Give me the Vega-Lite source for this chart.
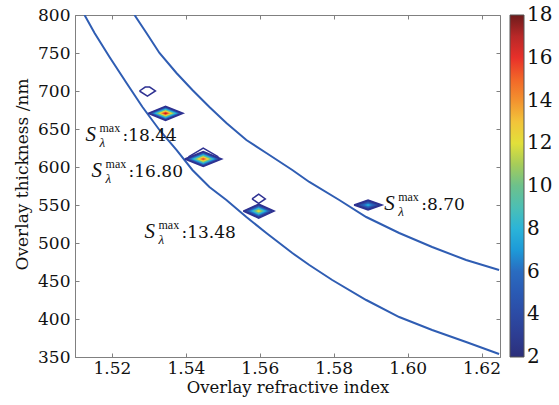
{
"$schema": "https://vega.github.io/schema/vega-lite/v6.json",
"width": 425, "height": 342,
"autosize": {"type": "none"},
"padding": {"left": 75, "top": 15, "right": 59, "bottom": 48},
"background": "white",
"config": {
 "view": {"stroke": "#808080", "strokeWidth": 1},
 "font": "DejaVu Serif",
 "axis": {"domainColor": "#808080", "tickColor": "#808080", "labelColor": "#111111", "titleColor": "#111111", "labelFont": "DejaVu Serif", "titleFont": "DejaVu Serif", "labelFontSize": 17, "titleFontSize": 17, "titleFontWeight": "normal", "grid": false},
 "legend": {"labelFont": "DejaVu Serif", "labelFontSize": 20, "labelColor": "#111111"}
},
"datasets": {
 "curves": [
  {"c":"lower","n":1.51258,"t":800},{"c":"lower","n":1.51529,"t":776.3},{"c":"lower","n":1.51934,"t":744.7},{"c":"lower","n":1.52394,"t":710.5},{"c":"lower","n":1.52826,"t":678.9},{"c":"lower","n":1.53285,"t":648.7},{"c":"lower","n":1.53745,"t":622.4},{"c":"lower","n":1.54177,"t":596.1},{"c":"lower","n":1.54637,"t":573.7},{"c":"lower","n":1.55096,"t":556.6},{"c":"lower","n":1.55637,"t":534.2},{"c":"lower","n":1.56177,"t":513.2},{"c":"lower","n":1.5688,"t":486.8},{"c":"lower","n":1.5734,"t":471.1},{"c":"lower","n":1.57961,"t":451.3},{"c":"lower","n":1.5888,"t":425.0},{"c":"lower","n":1.59772,"t":402.6},{"c":"lower","n":1.60664,"t":385.5},{"c":"lower","n":1.61583,"t":369.7},{"c":"lower","n":1.62475,"t":353.9},
  {"c":"upper","n":1.5261,"t":800},{"c":"upper","n":1.52934,"t":776.3},{"c":"upper","n":1.53285,"t":750.0},{"c":"upper","n":1.53745,"t":723.7},{"c":"upper","n":1.54177,"t":701.3},{"c":"upper","n":1.54637,"t":678.9},{"c":"upper","n":1.55096,"t":657.9},{"c":"upper","n":1.55637,"t":635.5},{"c":"upper","n":1.56177,"t":618.4},{"c":"upper","n":1.5688,"t":596.1},{"c":"upper","n":1.5734,"t":580.3},{"c":"upper","n":1.5815,"t":556.6},{"c":"upper","n":1.5888,"t":534.2},{"c":"upper","n":1.59772,"t":513.2},{"c":"upper","n":1.60664,"t":494.7},{"c":"upper","n":1.61583,"t":477.6},{"c":"upper","n":1.62475,"t":464.5}
 ],
 "rings": [
  {"r":"A02","v":2,"n":1.52977,"a":670.6,"b":670.6},{"r":"A02","v":2,"n":1.5345,"a":661.4,"b":679.8},{"r":"A02","v":2,"n":1.53923,"a":670.6,"b":670.6},
  {"r":"A03","v":3,"n":1.53006,"a":670.6,"b":670.6},{"r":"A03","v":3,"n":1.5345,"a":662.0,"b":679.2},{"r":"A03","v":3,"n":1.53894,"a":670.6,"b":670.6},
  {"r":"A04","v":4,"n":1.53035,"a":670.6,"b":670.6},{"r":"A04","v":4,"n":1.5345,"a":662.5,"b":678.7},{"r":"A04","v":4,"n":1.53865,"a":670.6,"b":670.6},
  {"r":"A05","v":5,"n":1.53063,"a":670.6,"b":670.6},{"r":"A05","v":5,"n":1.5345,"a":663.1,"b":678.1},{"r":"A05","v":5,"n":1.53837,"a":670.6,"b":670.6},
  {"r":"A06","v":6,"n":1.53092,"a":670.6,"b":670.6},{"r":"A06","v":6,"n":1.5345,"a":663.6,"b":677.6},{"r":"A06","v":6,"n":1.53808,"a":670.6,"b":670.6},
  {"r":"A07","v":7,"n":1.53121,"a":670.6,"b":670.6},{"r":"A07","v":7,"n":1.5345,"a":664.2,"b":677.0},{"r":"A07","v":7,"n":1.53779,"a":670.6,"b":670.6},
  {"r":"A08","v":8,"n":1.5315,"a":670.6,"b":670.6},{"r":"A08","v":8,"n":1.5345,"a":664.8,"b":676.4},{"r":"A08","v":8,"n":1.5375,"a":670.6,"b":670.6},
  {"r":"A09","v":9,"n":1.53178,"a":670.6,"b":670.6},{"r":"A09","v":9,"n":1.5345,"a":665.3,"b":675.9},{"r":"A09","v":9,"n":1.53722,"a":670.6,"b":670.6},
  {"r":"A10","v":10,"n":1.53207,"a":670.6,"b":670.6},{"r":"A10","v":10,"n":1.5345,"a":665.9,"b":675.3},{"r":"A10","v":10,"n":1.53693,"a":670.6,"b":670.6},
  {"r":"A11","v":11,"n":1.53236,"a":670.6,"b":670.6},{"r":"A11","v":11,"n":1.5345,"a":666.4,"b":674.8},{"r":"A11","v":11,"n":1.53664,"a":670.6,"b":670.6},
  {"r":"A12","v":12,"n":1.53265,"a":670.6,"b":670.6},{"r":"A12","v":12,"n":1.5345,"a":667.0,"b":674.2},{"r":"A12","v":12,"n":1.53635,"a":670.6,"b":670.6},
  {"r":"A13","v":13,"n":1.53293,"a":670.6,"b":670.6},{"r":"A13","v":13,"n":1.5345,"a":667.6,"b":673.6},{"r":"A13","v":13,"n":1.53607,"a":670.6,"b":670.6},
  {"r":"A14","v":14,"n":1.53322,"a":670.6,"b":670.6},{"r":"A14","v":14,"n":1.5345,"a":668.1,"b":673.1},{"r":"A14","v":14,"n":1.53578,"a":670.6,"b":670.6},
  {"r":"A15","v":15,"n":1.53351,"a":670.6,"b":670.6},{"r":"A15","v":15,"n":1.5345,"a":668.7,"b":672.5},{"r":"A15","v":15,"n":1.53549,"a":670.6,"b":670.6},
  {"r":"A16","v":16,"n":1.5338,"a":670.6,"b":670.6},{"r":"A16","v":16,"n":1.5345,"a":669.2,"b":672.0},{"r":"A16","v":16,"n":1.5352,"a":670.6,"b":670.6},
  {"r":"A17","v":17,"n":1.53409,"a":670.6,"b":670.6},{"r":"A17","v":17,"n":1.5345,"a":669.8,"b":671.4},{"r":"A17","v":17,"n":1.53491,"a":670.6,"b":670.6},
  {"r":"A18","v":18,"n":1.53437,"a":670.6,"b":670.6},{"r":"A18","v":18,"n":1.5345,"a":670.4,"b":670.8},{"r":"A18","v":18,"n":1.53463,"a":670.6,"b":670.6},
  {"r":"B02","v":2,"n":1.5397,"a":610.5,"b":610.5},{"r":"B02","v":2,"n":1.5447,"a":600.6,"b":620.4},{"r":"B02","v":2,"n":1.5497,"a":610.5,"b":610.5},
  {"r":"B03","v":3,"n":1.54004,"a":610.5,"b":610.5},{"r":"B03","v":3,"n":1.5447,"a":601.3,"b":619.7},{"r":"B03","v":3,"n":1.54936,"a":610.5,"b":610.5},
  {"r":"B04","v":4,"n":1.54038,"a":610.5,"b":610.5},{"r":"B04","v":4,"n":1.5447,"a":601.9,"b":619.1},{"r":"B04","v":4,"n":1.54902,"a":610.5,"b":610.5},
  {"r":"B05","v":5,"n":1.54071,"a":610.5,"b":610.5},{"r":"B05","v":5,"n":1.5447,"a":602.6,"b":618.4},{"r":"B05","v":5,"n":1.54869,"a":610.5,"b":610.5},
  {"r":"B06","v":6,"n":1.54105,"a":610.5,"b":610.5},{"r":"B06","v":6,"n":1.5447,"a":603.3,"b":617.7},{"r":"B06","v":6,"n":1.54835,"a":610.5,"b":610.5},
  {"r":"B07","v":7,"n":1.54139,"a":610.5,"b":610.5},{"r":"B07","v":7,"n":1.5447,"a":603.9,"b":617.1},{"r":"B07","v":7,"n":1.54801,"a":610.5,"b":610.5},
  {"r":"B08","v":8,"n":1.54173,"a":610.5,"b":610.5},{"r":"B08","v":8,"n":1.5447,"a":604.6,"b":616.4},{"r":"B08","v":8,"n":1.54767,"a":610.5,"b":610.5},
  {"r":"B09","v":9,"n":1.54207,"a":610.5,"b":610.5},{"r":"B09","v":9,"n":1.5447,"a":605.3,"b":615.7},{"r":"B09","v":9,"n":1.54734,"a":610.5,"b":610.5},
  {"r":"B10","v":10,"n":1.5424,"a":610.5,"b":610.5},{"r":"B10","v":10,"n":1.5447,"a":606.0,"b":615.0},{"r":"B10","v":10,"n":1.547,"a":610.5,"b":610.5},
  {"r":"B11","v":11,"n":1.54274,"a":610.5,"b":610.5},{"r":"B11","v":11,"n":1.5447,"a":606.6,"b":614.4},{"r":"B11","v":11,"n":1.54666,"a":610.5,"b":610.5},
  {"r":"B12","v":12,"n":1.54308,"a":610.5,"b":610.5},{"r":"B12","v":12,"n":1.5447,"a":607.3,"b":613.7},{"r":"B12","v":12,"n":1.54632,"a":610.5,"b":610.5},
  {"r":"B13","v":13,"n":1.54342,"a":610.5,"b":610.5},{"r":"B13","v":13,"n":1.5447,"a":608.0,"b":613.0},{"r":"B13","v":13,"n":1.54598,"a":610.5,"b":610.5},
  {"r":"B14","v":14,"n":1.54375,"a":610.5,"b":610.5},{"r":"B14","v":14,"n":1.5447,"a":608.6,"b":612.4},{"r":"B14","v":14,"n":1.54565,"a":610.5,"b":610.5},
  {"r":"B15","v":15,"n":1.54409,"a":610.5,"b":610.5},{"r":"B15","v":15,"n":1.5447,"a":609.3,"b":611.7},{"r":"B15","v":15,"n":1.54531,"a":610.5,"b":610.5},
  {"r":"B16","v":16,"n":1.54443,"a":610.5,"b":610.5},{"r":"B16","v":16,"n":1.5447,"a":610.0,"b":611.0},{"r":"B16","v":16,"n":1.54497,"a":610.5,"b":610.5},
  {"r":"C02","v":2,"n":1.55551,"a":542,"b":542},{"r":"C02","v":2,"n":1.5597,"a":532.8,"b":551.2},{"r":"C02","v":2,"n":1.56389,"a":542,"b":542},
  {"r":"C03","v":3,"n":1.55588,"a":542,"b":542},{"r":"C03","v":3,"n":1.5597,"a":533.6,"b":550.4},{"r":"C03","v":3,"n":1.56353,"a":542,"b":542},
  {"r":"C04","v":4,"n":1.55624,"a":542,"b":542},{"r":"C04","v":4,"n":1.5597,"a":534.4,"b":549.6},{"r":"C04","v":4,"n":1.56316,"a":542,"b":542},
  {"r":"C05","v":5,"n":1.55661,"a":542,"b":542},{"r":"C05","v":5,"n":1.5597,"a":535.2,"b":548.8},{"r":"C05","v":5,"n":1.5628,"a":542,"b":542},
  {"r":"C06","v":6,"n":1.55697,"a":542,"b":542},{"r":"C06","v":6,"n":1.5597,"a":536.0,"b":548.0},{"r":"C06","v":6,"n":1.56243,"a":542,"b":542},
  {"r":"C07","v":7,"n":1.55734,"a":542,"b":542},{"r":"C07","v":7,"n":1.5597,"a":536.8,"b":547.2},{"r":"C07","v":7,"n":1.56207,"a":542,"b":542},
  {"r":"C08","v":8,"n":1.5577,"a":542,"b":542},{"r":"C08","v":8,"n":1.5597,"a":537.6,"b":546.4},{"r":"C08","v":8,"n":1.5617,"a":542,"b":542},
  {"r":"C09","v":9,"n":1.55807,"a":542,"b":542},{"r":"C09","v":9,"n":1.5597,"a":538.4,"b":545.6},{"r":"C09","v":9,"n":1.56134,"a":542,"b":542},
  {"r":"C10","v":10,"n":1.55843,"a":542,"b":542},{"r":"C10","v":10,"n":1.5597,"a":539.2,"b":544.8},{"r":"C10","v":10,"n":1.56097,"a":542,"b":542},
  {"r":"C11","v":11,"n":1.5588,"a":542,"b":542},{"r":"C11","v":11,"n":1.5597,"a":540.0,"b":544.0},{"r":"C11","v":11,"n":1.56061,"a":542,"b":542},
  {"r":"C12","v":12,"n":1.55916,"a":542,"b":542},{"r":"C12","v":12,"n":1.5597,"a":540.8,"b":543.2},{"r":"C12","v":12,"n":1.56024,"a":542,"b":542},
  {"r":"C13","v":13,"n":1.55953,"a":542,"b":542},{"r":"C13","v":13,"n":1.5597,"a":541.6,"b":542.4},{"r":"C13","v":13,"n":1.55988,"a":542,"b":542},
  {"r":"D02","v":2,"n":1.5855,"a":550,"b":550},{"r":"D02","v":2,"n":1.5893,"a":543.4,"b":556.6},{"r":"D02","v":2,"n":1.5931,"a":550,"b":550},
  {"r":"D03","v":3,"n":1.58607,"a":550,"b":550},{"r":"D03","v":3,"n":1.5893,"a":544.4,"b":555.6},{"r":"D03","v":3,"n":1.59253,"a":550,"b":550},
  {"r":"D04","v":4,"n":1.58663,"a":550,"b":550},{"r":"D04","v":4,"n":1.5893,"a":545.4,"b":554.6},{"r":"D04","v":4,"n":1.59197,"a":550,"b":550},
  {"r":"D05","v":5,"n":1.5872,"a":550,"b":550},{"r":"D05","v":5,"n":1.5893,"a":546.4,"b":553.6},{"r":"D05","v":5,"n":1.5914,"a":550,"b":550},
  {"r":"D06","v":6,"n":1.58777,"a":550,"b":550},{"r":"D06","v":6,"n":1.5893,"a":547.3,"b":552.7},{"r":"D06","v":6,"n":1.59083,"a":550,"b":550},
  {"r":"D07","v":7,"n":1.58834,"a":550,"b":550},{"r":"D07","v":7,"n":1.5893,"a":548.3,"b":551.7},{"r":"D07","v":7,"n":1.59026,"a":550,"b":550},
  {"r":"D08","v":8,"n":1.5889,"a":550,"b":550},{"r":"D08","v":8,"n":1.5893,"a":549.3,"b":550.7},{"r":"D08","v":8,"n":1.5897,"a":550,"b":550}
 ],
 "outlines": [
  {"id":"oA","k":0,"n":1.52977,"t":670.6},{"id":"oA","k":1,"n":1.5345,"t":679.8},{"id":"oA","k":2,"n":1.53923,"t":670.6},{"id":"oA","k":3,"n":1.5345,"t":661.4},{"id":"oA","k":4,"n":1.52977,"t":670.6},
  {"id":"oB","k":0,"n":1.5397,"t":610.5},{"id":"oB","k":1,"n":1.5447,"t":620.4},{"id":"oB","k":2,"n":1.5497,"t":610.5},{"id":"oB","k":3,"n":1.5447,"t":600.6},{"id":"oB","k":4,"n":1.5397,"t":610.5},
  {"id":"oC","k":0,"n":1.55551,"t":542},{"id":"oC","k":1,"n":1.5597,"t":551.2},{"id":"oC","k":2,"n":1.56389,"t":542},{"id":"oC","k":3,"n":1.5597,"t":532.8},{"id":"oC","k":4,"n":1.55551,"t":542},
  {"id":"oD","k":0,"n":1.5855,"t":550},{"id":"oD","k":1,"n":1.5893,"t":556.6},{"id":"oD","k":2,"n":1.5931,"t":550},{"id":"oD","k":3,"n":1.5893,"t":543.4},{"id":"oD","k":4,"n":1.5855,"t":550},
  {"id":"h1","k":0,"n":1.52744,"t":700.0},{"id":"h1","k":1,"n":1.5290,"t":705.2},{"id":"h1","k":2,"n":1.5302,"t":705.2},{"id":"h1","k":3,"n":1.53176,"t":700.0},{"id":"h1","k":4,"n":1.5296,"t":693.4},{"id":"h1","k":5,"n":1.52744,"t":700.0},
  {"id":"h2","k":0,"n":1.5579,"t":558},{"id":"h2","k":1,"n":1.5597,"t":564.2},{"id":"h2","k":2,"n":1.5615,"t":558},{"id":"h2","k":3,"n":1.5597,"t":552.2},{"id":"h2","k":4,"n":1.5579,"t":558},
  {"id":"arc","k":0,"n":1.54069,"t":613.2},{"id":"arc","k":1,"n":1.5447,"t":625.0},{"id":"arc","k":2,"n":1.5488,"t":613.2}
 ],
 "labels": [
  {"n":1.51285,"t":634.2,"v":":18.44"},
  {"n":1.51448,"t":586.8,"v":":16.80"},
  {"n":1.5288,"t":506.6,"v":":13.48"},
  {"n":1.59366,"t":543.4,"v":":8.70"}
 ]
},
"layer": [
 {
  "data": {"name": "curves"},
  "mark": {"type": "line", "color": "#2f5db3", "strokeWidth": 2, "clip": true},
  "encoding": {
   "x": {"field": "n", "type": "quantitative", "scale": {"domain": [1.51, 1.625], "nice": false, "zero": false},
         "axis": {"orient": "bottom", "values": [1.52, 1.54, 1.56, 1.58, 1.6, 1.62], "format": ".2f", "title": "Overlay refractive index", "tickSize": -4, "labelPadding": 7, "titlePadding": 3, "titleFontSize": 16.5}},
   "y": {"field": "t", "type": "quantitative", "scale": {"domain": [350, 800], "nice": false, "zero": false},
         "axis": {"orient": "left", "values": [350, 400, 450, 500, 550, 600, 650, 700, 750, 800], "format": "d", "title": "Overlay thickness /nm", "tickSize": -4, "labelPadding": 9, "titlePadding": 6, "titleY": 159}},
   "detail": {"field": "c"}
  }
 },
 {
  "data": {"name": "rings"},
  "mark": {"type": "area", "interpolate": "linear", "clip": true},
  "encoding": {
   "x": {"field": "n", "type": "quantitative", "axis": null},
   "y": {"field": "a", "type": "quantitative", "axis": null},
   "y2": {"field": "b"},
   "detail": {"field": "r"},
   "color": {"field": "v", "type": "quantitative",
     "scale": {"domain": [2,3,4,5,6,7,8,9,10,11,12,13,14,15,16,17,18],
               "range": ["#2c2f7a","#2d3d92","#2c4ba5","#2a5ab4","#2a6cc0","#1d9ad8","#2bb4d8","#4cbfb4","#6cc18c","#a6cc5a","#e2e03a","#f2c43a","#f3922f","#f26628","#e8302a","#b82828","#6e1b1b"]},
     "legend": {"title": null, "orient": "right", "offset": 9, "padding": 0, "direction": "vertical", "gradientLength": 342, "gradientThickness": 14, "gradientStrokeColor": "#555555", "gradientStrokeWidth": 1, "values": [2,4,6,8,10,12,14,16,18], "labelOffset": 3, "labelBaseline": "middle",
                "encode": {"labels": {"update": {"baseline": {"value": "middle"}}}}}}
  }
 },
 {
  "data": {"name": "outlines"},
  "mark": {"type": "line", "color": "#2e3192", "strokeWidth": 1.5, "clip": true},
  "encoding": {
   "x": {"field": "n", "type": "quantitative", "axis": {"orient": "top", "values": [1.52, 1.54, 1.56, 1.58, 1.6, 1.62], "labels": false, "domain": false, "title": null, "tickSize": -4}},
   "y": {"field": "t", "type": "quantitative", "axis": {"orient": "right", "values": [350, 400, 450, 500, 550, 600, 650, 700, 750, 800], "labels": false, "domain": false, "title": null, "tickSize": -4}},
   "detail": {"field": "id"},
   "order": {"field": "k"}
  }
 },
 {
  "data": {"name": "labels"},
  "mark": {"type": "text", "text": "S", "font": "Liberation Serif", "fontStyle": "italic", "fontSize": 21, "align": "left", "baseline": "alphabetic", "color": "#111111"},
  "encoding": {"x": {"field": "n", "type": "quantitative", "axis": null}, "y": {"field": "t", "type": "quantitative", "axis": null}}
 },
 {
  "data": {"name": "labels"},
  "mark": {"type": "text", "text": "max", "font": "Liberation Serif", "fontSize": 12, "align": "left", "baseline": "alphabetic", "dx": 14, "dy": -9, "color": "#111111"},
  "encoding": {"x": {"field": "n", "type": "quantitative", "axis": null}, "y": {"field": "t", "type": "quantitative", "axis": null}}
 },
 {
  "data": {"name": "labels"},
  "mark": {"type": "text", "text": "λ", "font": "Liberation Serif", "fontStyle": "italic", "fontSize": 13, "align": "left", "baseline": "alphabetic", "dx": 14, "dy": 6, "color": "#111111"},
  "encoding": {"x": {"field": "n", "type": "quantitative", "axis": null}, "y": {"field": "t", "type": "quantitative", "axis": null}}
 },
 {
  "data": {"name": "labels"},
  "mark": {"type": "text", "font": "DejaVu Serif", "fontSize": 17, "align": "left", "baseline": "alphabetic", "dx": 37, "color": "#111111"},
  "encoding": {"x": {"field": "n", "type": "quantitative", "axis": null}, "y": {"field": "t", "type": "quantitative", "axis": null}, "text": {"field": "v"}}
 }
],
"resolve": {"axis": {"x": "independent", "y": "independent"}}
}
